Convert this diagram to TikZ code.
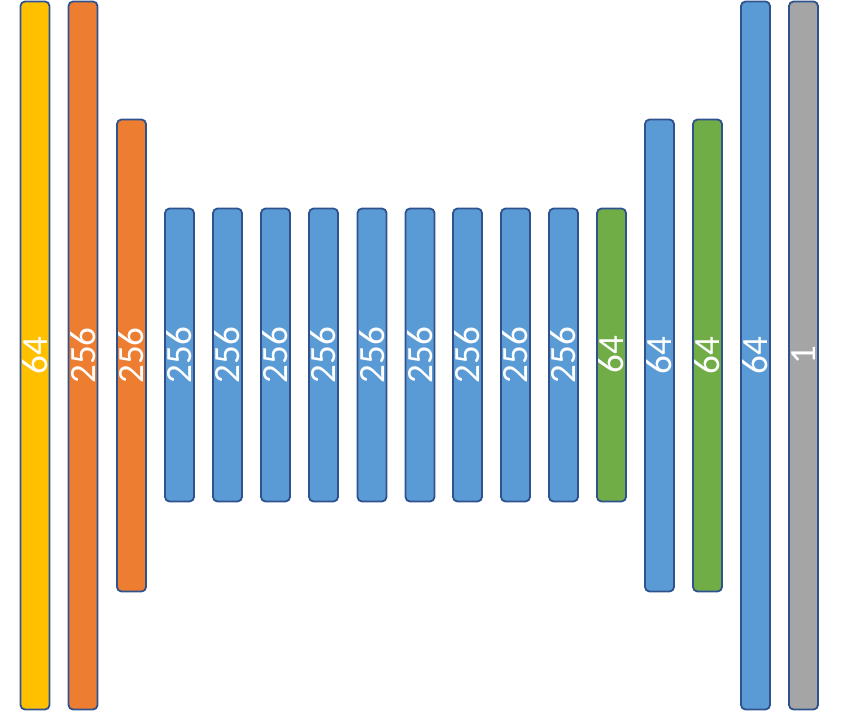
\documentclass[tikz,border=0pt]{standalone}
\usepackage{fontspec}
\setmainfont{Carlito}
\definecolor{cyellow}{HTML}{FFC000}
\definecolor{corange}{HTML}{ED7D31}
\definecolor{cblue}{HTML}{5B9BD5}
\definecolor{cgreen}{HTML}{70AD47}
\definecolor{cgray}{HTML}{A5A5A5}
\definecolor{cedge}{HTML}{2F528F}
\tikzset{
  bar/.style={draw=cedge, line width=1.8pt, rounded corners=4.5pt, rotate=90,
    minimum height=29pt, inner sep=0pt, text=white,
    font=\fontsize{37}{37}\selectfont},
  full/.style={bar, minimum width=708pt},
  mid/.style={bar, minimum width=472pt},
  short/.style={bar, minimum width=293pt}
}
\begin{document}
\begin{tikzpicture}[x=1pt,y=-1pt]
\useasboundingbox (0,0) rectangle (849,712);
\node[full, fill=cyellow] (b1) at (35,355.5) {64};
\node[full, fill=corange] (b2) at (83,355.5) {256};
\node[mid, fill=corange] (b3) at (131.5,355.5) {256};
\node[short, fill=cblue] (b4) at (179.5,355) {256};
\node[short, fill=cblue] (b5) at (227.5,355) {256};
\node[short, fill=cblue] (b6) at (275.5,355) {256};
\node[short, fill=cblue] (b7) at (323.5,355) {256};
\node[short, fill=cblue] (b8) at (372,355) {256};
\node[short, fill=cblue] (b9) at (420,355) {256};
\node[short, fill=cblue] (b10) at (467.5,355) {256};
\node[short, fill=cblue] (b11) at (515.5,355) {256};
\node[short, fill=cblue] (b12) at (563.5,355) {256};
\node[short, fill=cgreen] (b13) at (611.5,355) {64};
\node[mid, fill=cblue] (b14) at (659.5,355.5) {64};
\node[mid, fill=cgreen] (b15) at (707.5,355.5) {64};
\node[full, fill=cblue] (b16) at (755.5,355.5) {64};
\node[full, fill=cgray] (b17) at (803.5,355.5) {1};
\end{tikzpicture}
\end{document}
